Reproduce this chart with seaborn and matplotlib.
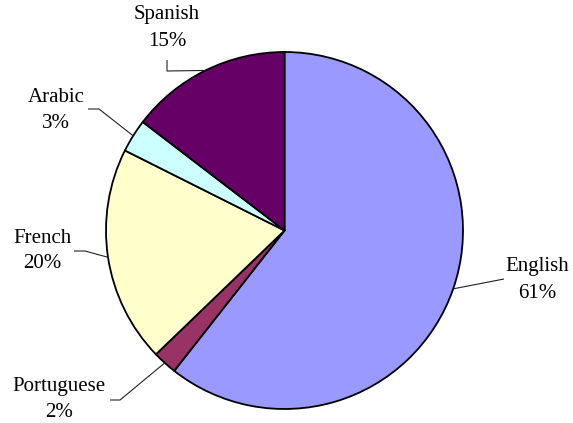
import numpy as np
import matplotlib
matplotlib.use("Agg")
import matplotlib.pyplot as plt
import seaborn as sns

# pie data (percent shares, clockwise from 12 o'clock)
languages = ["English", "Portuguese", "French", "Arabic", "Spanish"]
shares = [60.6, 2.2, 19.6, 3.0, 14.6]
colors = ["#9999FF", "#993366", "#FFFFCC", "#CCFFFF", "#660066"]

sns.set_style("white")
plt.rcParams["font.family"] = ["Liberation Serif", "DejaVu Serif"]

W, H = 573, 423
cx, cy, R = 284.5, 230.5, 178.5  # pie centre / radius in pixels


def px(x, y):
    # pixel position -> data coords (pie radius = 1)
    return (x - cx) / R, (cy - y) / R


# label centre, then leader-line elbow points (pixels)
label_pos = {
    "English": (537, 280),
    "Portuguese": (59, 399),
    "French": (42, 251),
    "Arabic": (56, 110),
    "Spanish": (167, 28),
}
leader_pts = {
    "English": [(504, 279)],
    "Portuguese": [(120, 400), (110, 400)],
    "French": [(85, 251), (74, 251)],
    "Arabic": [(99, 109), (88, 109)],
    "Spanish": [(167, 71), (167, 60)],
}

fig = plt.figure(figsize=(W / 100, H / 100), dpi=100)
ax = fig.add_axes([0, 0, 1, 1])

wedges, _ = ax.pie(
    shares,
    colors=colors,
    startangle=90,
    counterclock=False,
    radius=1,
    wedgeprops=dict(edgecolor="black", linewidth=1.3),
)

for w, name, val in zip(wedges, languages, shares):
    mid = np.deg2rad((w.theta1 + w.theta2) / 2)
    path = [(np.cos(mid), np.sin(mid))] + [px(*p) for p in leader_pts[name]]
    xs, ys = zip(*path)
    ax.plot(xs, ys, color="#222222", linewidth=0.8, solid_capstyle="butt")
    tx, ty = px(*label_pos[name])
    ax.text(tx, ty, f"{name}\n{round(val)}%", ha="center", va="center",
            multialignment="center", fontsize=15, linespacing=1.5,
            color="black")

ax.set_aspect("auto")
ax.set_xlim(-cx / R, (W - cx) / R)
ax.set_ylim(-(H - cy) / R, cy / R)
ax.axis("off")

fig.savefig("out.png", dpi=100)
